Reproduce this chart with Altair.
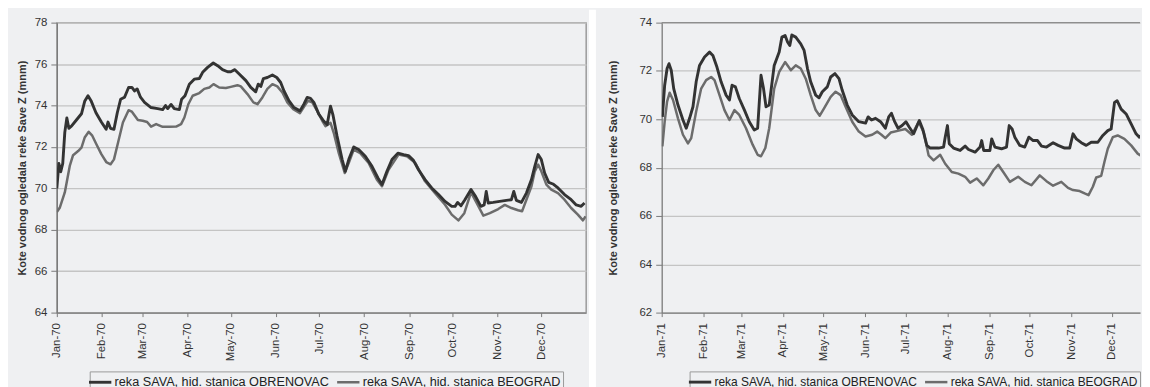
import altair as alt
import pandas as pd

SERIES = ["reka SAVA, hid. stanica OBRENOVAC", "reka SAVA, hid. stanica BEOGRAD"]
COLORS = ["#333333", "#6c6c6c"]
WIDTHS = [2.9, 2.5]
Y_TITLE = "Kote vodnog ogledala reke Save Z (mnm)"

# (day of year, water level) pairs
obr70 = [(0, 70.0), (1.4, 71.2), (2.7, 70.8), (4.1, 71.2), (5.5, 72.7), (6.9, 73.4), (8.3, 72.9), (10.1, 73.0),
         (13.5, 73.3), (17, 73.6), (19.2, 74.2), (21.5, 74.47), (23.8, 74.2), (27, 73.65), (30.7, 73.2),
         (34, 72.85), (35.3, 73.2), (37, 72.9), (39.4, 72.85), (41.7, 73.65), (44, 74.3), (46.7, 74.4),
         (49.5, 74.87), (51.8, 74.87), (53.6, 74.7), (55.4, 74.8), (57.7, 74.4), (60.5, 74.15), (65, 73.9),
         (69.6, 73.85), (73, 73.8), (75, 74.0), (76.5, 73.85), (78.8, 74.05), (81, 73.85), (84.5, 73.8),
         (86.1, 74.3), (88.4, 74.47), (91.4, 75.03), (94.8, 75.27), (98.3, 75.3), (100.6, 75.6), (104, 75.84),
         (107.9, 76.05), (110.9, 75.92), (114.3, 75.73), (117.8, 75.63), (120, 75.63), (122.8, 75.73),
         (125.8, 75.52), (130.4, 75.2), (133.8, 74.87), (137.2, 74.66), (138.9, 75.03), (140.7, 74.92),
         (142.5, 75.3), (145.2, 75.35), (148.7, 75.47), (151.7, 75.35), (154.4, 75.11), (156.7, 74.7),
         (160.1, 74.23), (163.6, 73.9), (167.7, 73.74), (170.4, 74.06), (172.7, 74.39), (175, 74.34),
         (177.3, 74.15), (180.7, 73.58), (184.2, 73.24), (186.5, 73.08), (188.8, 73.97), (190.4, 73.56),
         (193.3, 72.52), (196.8, 71.4), (199, 70.82), (201.4, 71.4), (204.8, 72.0), (208.2, 71.87),
         (212.8, 71.55), (217.4, 71.06), (221.5, 70.5), (224.3, 70.18), (227.7, 70.82), (231.2, 71.39),
         (235.3, 71.7), (239.2, 71.63), (242.6, 71.58), (246, 71.35), (249.5, 70.9), (254, 70.42),
         (258.6, 70.02), (263.3, 69.7), (267.8, 69.37), (272.4, 69.13), (274.7, 69.13), (276.5, 69.32),
         (278.8, 69.16), (281.5, 69.45), (285.7, 69.94), (288.9, 69.6), (292.5, 69.13), (294.8, 69.2),
         (296.2, 69.85), (297.6, 69.29), (301, 69.32), (305.5, 69.37), (310.1, 69.42), (313.6, 69.45),
         (315.2, 69.85), (317, 69.42), (320.5, 69.32), (323.9, 69.77), (327.4, 70.42), (329.7, 71.06),
         (332, 71.63), (334.2, 71.39), (336.5, 70.74), (339.3, 70.29), (342.2, 70.21), (345.7, 70.02),
         (350.2, 69.7), (354.8, 69.45), (358.3, 69.2), (361.7, 69.13), (364, 69.29)]

beo70 = [(0, 68.85), (2, 69.06), (5.5, 69.8), (8.9, 71.08), (11.2, 71.6), (14.7, 71.8), (17, 71.97),
         (19.2, 72.45), (22, 72.73), (24.3, 72.56), (27.3, 72.13), (30.7, 71.65), (34.1, 71.27), (37.1, 71.16),
         (39.4, 71.4), (42.2, 72.2), (45.6, 73.18), (49.5, 73.77), (51.8, 73.7), (55.9, 73.3), (59.3, 73.26),
         (62.3, 73.2), (65, 72.98), (68.5, 73.1), (73, 72.97), (77.7, 72.97), (82.3, 72.98), (85.7, 73.1),
         (88, 73.42), (90.7, 74.06), (93.7, 74.47), (98.3, 74.6), (101.7, 74.8), (105.2, 74.87), (108.1, 75.03),
         (112, 74.87), (116.6, 74.84), (120, 74.9), (124.6, 74.98), (126.9, 74.92), (131.5, 74.55),
         (135.6, 74.15), (138.4, 74.06), (141.8, 74.39), (145.2, 74.8), (148.7, 75.03), (152.1, 74.92),
         (155.6, 74.63), (159, 74.15), (163.1, 73.82), (167.7, 73.63), (170.9, 73.98), (173.2, 74.23),
         (176.2, 74.15), (179.6, 73.74), (183.7, 73.18), (185.3, 73.0), (188.8, 73.16), (191, 72.68),
         (194.5, 71.7), (198.6, 70.74), (201.4, 71.23), (204.8, 71.87), (209.3, 71.7), (215.1, 71.23),
         (220.8, 70.42), (224.3, 70.1), (228.8, 70.9), (235.7, 71.63), (241.5, 71.55), (247.2, 71.23),
         (254, 70.34), (260.9, 69.77), (267.8, 69.21), (272.4, 68.73), (277, 68.45), (281.1, 68.8),
         (285.7, 69.8), (289.6, 69.29), (294.2, 68.68), (298.7, 68.8), (304.5, 69.0), (309, 69.2),
         (313.6, 69.05), (318.2, 68.94), (320.9, 68.89), (323.9, 69.45), (327.4, 70.1), (329.7, 70.82),
         (332, 71.15), (334.2, 70.82), (337.7, 70.18), (341.1, 69.94), (345.7, 69.77), (350.2, 69.45),
         (354.8, 69.05), (359.4, 68.73), (362.9, 68.45), (364.7, 68.65)]

obr71 = [(0.5, 70.1), (2.2, 71.41), (4, 72.1), (5.4, 72.3), (7.1, 72.03), (8.9, 71.27), (12.1, 70.59),
         (15.8, 69.97), (18.2, 69.63), (20.7, 70.04), (23.2, 70.52), (25.6, 71.55), (28.1, 72.23),
         (31.8, 72.58), (35.5, 72.78), (38, 72.64), (41, 72.16), (44.1, 71.55), (47.8, 71.0), (50.3, 70.8),
         (52.2, 71.41), (54.7, 71.34), (57.6, 70.86), (61.4, 70.38), (65, 69.9), (68.7, 69.56), (71.2, 69.63),
         (73.7, 71.82), (75.6, 71.27), (77.4, 70.52), (79.8, 70.59), (83.5, 72.23), (87.2, 72.78),
         (89.2, 73.4), (91.6, 73.47), (93.4, 73.2), (95.1, 73.05), (96.6, 73.49), (99.5, 73.4),
         (103.2, 73.12), (105.7, 72.85), (108.2, 72.1), (110.6, 71.55), (114.3, 71.0), (116.8, 70.89),
         (119.2, 71.14), (122.9, 71.34), (125.4, 71.75), (128.6, 71.89), (131.6, 71.68), (134, 71.2),
         (137.7, 70.59), (141.4, 70.18), (146.3, 69.9), (151.3, 69.84), (153.2, 70.1), (155.7, 69.97),
         (158.7, 70.04), (162.4, 69.9), (166, 69.63), (168.5, 70.1), (170.5, 70.25), (172.9, 69.9),
         (175.4, 69.63), (178.4, 69.74), (181.3, 69.9), (183.8, 69.67), (187, 69.4), (191.2, 69.95),
         (193.7, 69.6), (196.8, 68.92), (199.3, 68.81), (205.5, 68.81), (209.2, 68.85), (210.4, 69.26),
         (212.1, 69.74), (213.4, 68.99), (216.6, 68.81), (221.5, 68.71), (225.2, 68.89), (227.7, 68.75),
         (232.6, 68.64), (236.3, 68.85), (237.5, 69.12), (239, 68.71), (243.6, 68.71), (244.9, 69.19),
         (247.3, 68.85), (252.2, 68.78), (255.9, 68.85), (257.9, 69.74), (260.1, 69.6), (262.1, 69.26),
         (265.8, 68.92), (269.5, 68.85), (272.5, 69.26), (275.7, 69.12), (278.9, 69.12), (281.9, 68.89),
         (285.6, 68.85), (290.5, 69.03), (294.2, 68.92), (299.1, 68.81), (302.8, 68.81), (305.3, 69.4),
         (307.7, 69.19), (311.4, 69.03), (315.1, 68.92), (318.8, 69.05), (323.7, 69.05), (327.4, 69.33),
         (331.1, 69.53), (333.6, 69.6), (336.1, 70.7), (338, 70.77), (341, 70.42), (344.7, 70.22),
         (348.4, 69.81), (352.1, 69.4), (354.5, 69.26), (357, 69.4), (360.2, 69.33)]

beo71 = [(0.5, 68.88), (2.2, 69.9), (4, 70.73), (5.9, 71.1), (8.4, 70.8), (12.1, 70.04), (15.8, 69.36),
         (19.5, 69.0), (21.9, 69.22), (25.6, 70.32), (29.3, 71.27), (33, 71.62), (36.7, 71.75), (39.2, 71.62),
         (42.9, 71.0), (46.6, 70.38), (50.3, 69.97), (54, 70.38), (57.6, 70.18), (62.6, 69.63), (67.5, 68.95),
         (71.2, 68.53), (73.7, 68.47), (76.9, 68.81), (79.8, 69.63), (83.5, 71.27), (87.2, 71.96),
         (91.6, 72.37), (95.9, 72.03), (99.5, 72.23), (103.2, 72.1), (106.9, 71.68), (110.6, 71.0),
         (114.3, 70.38), (117.3, 70.15), (120.5, 70.45), (125.4, 70.93), (129.1, 71.14), (132.8, 71.0),
         (136.5, 70.52), (141.4, 69.9), (146.3, 69.49), (151.3, 69.29), (156.2, 69.36), (159.9, 69.49),
         (163.1, 69.36), (166, 69.22), (170, 69.45), (175.9, 69.53), (180.8, 69.6), (185.7, 69.36),
         (190.7, 69.9), (194.4, 69.47), (198.1, 68.51), (201.8, 68.3), (206.7, 68.53), (210.4, 68.16),
         (215.3, 67.82), (220.2, 67.75), (225.2, 67.62), (228.9, 67.38), (233.8, 67.55), (238.7, 67.27),
         (242.4, 67.55), (246.1, 67.89), (249.8, 68.12), (253.5, 67.82), (258.4, 67.41), (264.6, 67.62),
         (269.5, 67.41), (274.4, 67.27), (280.6, 67.68), (285.6, 67.44), (290.5, 67.25), (296.6, 67.41),
         (301.6, 67.16), (305.3, 67.07), (310.2, 67.03), (313.9, 66.93), (316.8, 66.86), (320, 67.21),
         (322.5, 67.59), (326.2, 67.66), (328.6, 68.23), (331.1, 68.78), (334.8, 69.26), (338.4, 69.33),
         (343.4, 69.19), (348.4, 68.92), (353.3, 68.58), (357, 68.44), (359.4, 68.71), (360.7, 68.92)]

Y_TICKS_70 = [64, 66, 68, 70, 72, 74, 76, 78]
Y_TICKS_71 = [62, 64, 66, 68, 70, 72, 74]
HEIGHT = 291


def frame(year, pairs, name):
    base = pd.Timestamp(year=year, month=1, day=1)
    dates = [(base + pd.Timedelta(hours=round(d * 24))).strftime("%Y-%m-%dT%H:%M") for d, _ in pairs]
    return pd.DataFrame({"date": dates, "value": [v for _, v in pairs], "series": name})


def lines(df, year, yticks, end, title_pad, legend_x, legend_font):
    months = [alt.DateTime(year=year, month=m, date=1) for m in range(1, 13)]
    return alt.Chart(df).mark_line(clip=True, strokeJoin="round").encode(
        x=alt.X("date:T",
                scale=alt.Scale(domain=[alt.DateTime(year=year, month=1, date=1), end], nice=False),
                axis=alt.Axis(values=months, format="%b-%y", labelAngle=270, title=None, grid=False,
                              tickSize=4, labelPadding=6)),
        y=alt.Y("value:Q",
                scale=alt.Scale(domain=[yticks[0], yticks[-1]], nice=False, zero=False),
                axis=alt.Axis(values=yticks, title=Y_TITLE, titlePadding=title_pad, tickSize=6,
                              labelPadding=4, grid=True)),
        color=alt.Color("series:N", sort=SERIES,
                        scale=alt.Scale(domain=SERIES, range=COLORS),
                        legend=alt.Legend(orient="none", legendX=legend_x, legendY=350, direction="horizontal",
                                          title=None, symbolType="M-1.6,0H1.6", symbolSize=196,
                                          symbolStrokeWidth=3, symbolFillColor="transparent",
                                          labelFontSize=legend_font, labelFont="Liberation Sans",
                                          labelColor="#222", labelLimit=400, strokeColor="#9a9a9a",
                                          padding=2, columnPadding=2, labelOffset=6)),
        strokeWidth=alt.StrokeWidth("series:N", scale=alt.Scale(domain=SERIES, range=WIDTHS), legend=None),
    )


df70 = pd.concat([frame(1970, beo70, SERIES[1]), frame(1970, obr70, SERIES[0])])
df71 = pd.concat([frame(1971, beo71, SERIES[1]), frame(1971, obr71, SERIES[0])])

# white gap between the two panels (decoration)
separator = alt.Chart(pd.DataFrame({"k": [0]})).mark_rect(color="white", clip=False).encode(
    x=alt.value(534), x2=alt.value(541), y=alt.value(-13), y2=alt.value(366)
)

left = alt.layer(
    lines(df70, 1970, Y_TICKS_70, alt.DateTime(year=1971, month=1, date=1), 7, 33, 12.7),
    separator,
).properties(width=531, height=HEIGHT)

top_border = alt.Chart(pd.DataFrame({"v": [Y_TICKS_71[-1]]})).mark_rule(color="#8e8e8e", strokeWidth=1.3).encode(
    y="v:Q"
)

right = alt.layer(
    lines(df71, 1971, Y_TICKS_71, alt.DateTime(year=1971, month=12, date=22), 21, 28, 12.0),
    top_border,
).properties(width=480, height=HEIGHT, view=alt.ViewBackground(stroke="transparent"))

chart = alt.hconcat(left, right, spacing=9).resolve_scale(
    color="independent", strokeWidth="independent"
).resolve_legend(color="independent").properties(
    padding={"left": 7, "top": 0, "right": 0, "bottom": 0}
).configure(
    background="#eff0f2"
).configure_view(
    stroke="#8e8e8e", strokeWidth=1.3
).configure_axis(
    domainColor="#7a7a7a", domainWidth=1.3, tickColor="#7a7a7a", gridColor="#c4c4c4", gridWidth=1.3,
    labelFont="Liberation Sans", labelFontSize=11.5, labelColor="#333",
    titleFont="Liberation Sans", titleFontSize=11, titleFontWeight="bold", titleColor="#333"
)

chart.save("out.html", embed_options={"renderer": "svg", "actions": False})
